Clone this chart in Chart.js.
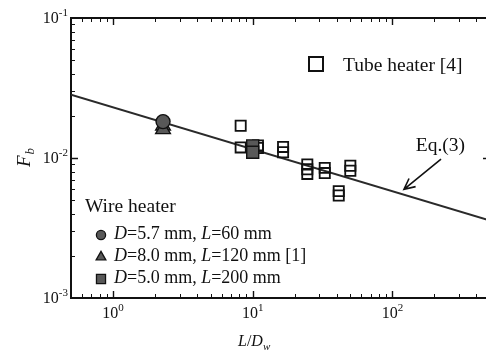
<!DOCTYPE html>
<html>
<head>
<meta charset="utf-8">
<script src="https://cdn.jsdelivr.net/npm/chart.js@4.4.0/dist/chart.umd.min.js"></script>
<style>
    html, body { margin: 0; padding: 0; background: #fff; overflow: hidden; }
    #wrap { width: 500px; height: 350px; }
</style>
</head>
<body>
<div id="wrap"><canvas id="chart" width="500" height="350"></canvas></div>
<script>
// values: L/D_w and F_b
const tubeX = [8.2, 8.2, 10.9, 10.9, 16.5, 16.5, 24.6, 24.6, 24.6, 32.8, 32.8, 41.3, 41.3, 50, 50];
const tubeY = [0.0170, 0.0119, 0.0123, 0.0118, 0.0120, 0.0110, 0.0090, 0.0083, 0.0077, 0.0085, 0.0078, 0.0058, 0.0054, 0.0088, 0.0081];

const circleX = [2.28];
const circleY = [0.0182];
const triX = [2.28, 2.28];
const triY = [0.0170, 0.0160];
const wireSqX = [10, 10];
const wireSqY = [0.0122, 0.0110];

// Eq.(3) line, end points
const eqX = [0.5, 500];
const eqY = [0.0283, 0.00357];

// axis decades and labels
const xMajor = [1, 10, 100];
const xExp = ['0', '1', '2'];
const yMajor = [0.1, 0.01, 0.001];
const yExp = ['-1', '-2', '-3'];

const wireLabels = [
    [['D', true], ['=5.7 mm, ', false], ['L', true], ['=60 mm', false]],
    [['D', true], ['=8.0 mm, ', false], ['L', true], ['=120 mm [1]', false]],
    [['D', true], ['=5.0 mm, ', false], ['L', true], ['=200 mm', false]]
];
const wireStyles = ['circle', 'triangle', 'rect'];

const FONT = '"Liberation Serif", "Times New Roman", serif';
const INK = '#111';
const GREY = '#585858';

const pts = (xs, ys) => xs.map((x, i) => ({ x, y: ys[i] }));

function richText(ctx, parts, x, y, size) {
    parts.forEach(([t, italic]) => {
        ctx.font = `${italic ? 'italic ' : ''}${size}px ${FONT}`;
        ctx.fillText(t, x, y);
        x += ctx.measureText(t).width;
    });
}

function power(ctx, base, exp, x, y, align) {
    // "10" with a raised exponent; x is the anchor per align
    ctx.font = `16px ${FONT}`;
    const wb = ctx.measureText(base).width;
    ctx.font = `11px ${FONT}`;
    const we = ctx.measureText(exp).width;
    let left = x;
    if (align === 'center') left = x - (wb + we) / 2;
    if (align === 'right') left = x - wb - we;
    ctx.textAlign = 'left';
    ctx.font = `16px ${FONT}`;
    ctx.fillText(base, left, y);
    ctx.font = `11px ${FONT}`;
    ctx.fillText(exp, left + wb, y - 7);
}

const frame = {
    id: 'frame',
    beforeDatasetsDraw(chart) {
        const { ctx, chartArea: a, scales: { x, y } } = chart;
        ctx.save();
        ctx.strokeStyle = INK;
        ctx.lineWidth = 2;
        ctx.strokeRect(a.left, a.top, a.right - a.left, a.bottom - a.top);

        // inward ticks on all four sides
        for (let d = -3; d <= 3; d++) {
            for (let m = 1; m <= 9; m++) {
                const v = m * Math.pow(10, d);
                const len = m === 1 ? 7 : 4;
                ctx.lineWidth = m === 1 ? 1.4 : 1;
                if (v > x.min && v < x.max) {
                    const px = Math.round(x.getPixelForValue(v)) + 0.5;
                    ctx.beginPath();
                    ctx.moveTo(px, a.bottom); ctx.lineTo(px, a.bottom - len);
                    ctx.moveTo(px, a.top); ctx.lineTo(px, a.top + len);
                    ctx.stroke();
                }
                if (v > y.min && v < y.max) {
                    const py = Math.round(y.getPixelForValue(v)) + 0.5;
                    ctx.beginPath();
                    ctx.moveTo(a.left, py); ctx.lineTo(a.left + len, py);
                    ctx.moveTo(a.right, py); ctx.lineTo(a.right - len, py);
                    ctx.stroke();
                }
            }
        }
        ctx.restore();
    },
    afterDatasetsDraw(chart) {
        const { ctx, chartArea: a, scales: { x, y } } = chart;
        ctx.save();
        ctx.fillStyle = INK;
        ctx.textBaseline = 'alphabetic';

        xMajor.forEach((v, i) => power(ctx, '10', xExp[i], x.getPixelForValue(v), a.bottom + 20, 'center'));
        yMajor.forEach((v, i) => power(ctx, '10', yExp[i], a.left - 3, y.getPixelForValue(v) + 5, 'right'));

        // axis titles
        ctx.textAlign = 'left';
        let tx = 238;
        ctx.font = `italic 16px ${FONT}`;
        ctx.fillText('L', tx, 346); tx += ctx.measureText('L').width;
        ctx.font = `16px ${FONT}`;
        ctx.fillText('/', tx, 346); tx += ctx.measureText('/').width;
        ctx.font = `italic 16px ${FONT}`;
        ctx.fillText('D', tx, 346); tx += ctx.measureText('D').width;
        ctx.font = `italic 11px ${FONT}`;
        ctx.fillText('w', tx, 350);

        ctx.save();
        ctx.translate(30, 167);
        ctx.rotate(-Math.PI / 2);
        ctx.font = `italic 19px ${FONT}`;
        ctx.fillText('F', 0, 0);
        const wf = ctx.measureText('F').width;
        ctx.font = `italic 13px ${FONT}`;
        ctx.fillText('b', wf + 1, 4);
        ctx.restore();

        // tube heater legend
        ctx.strokeStyle = INK;
        ctx.lineWidth = 2;
        ctx.strokeRect(309, 57, 14, 14);
        ctx.font = `19.5px ${FONT}`;
        ctx.fillText('Tube heater [4]', 343, 71);

        // wire heater legend
        ctx.fillText('Wire heater', 85, 212);
        wireLabels.forEach((parts, i) => {
            const by = 239 + i * 22;
            ctx.fillStyle = GREY;
            ctx.strokeStyle = INK;
            ctx.lineWidth = 1.3;
            const style = wireStyles[i];
            const r = style === 'circle' ? 4.6 : style === 'triangle' ? 5.6 : 6.4;
            Chart.helpers.drawPoint(ctx, { pointStyle: style, radius: r, rotation: 0, borderWidth: 1.3 }, 101, by - 4);
            ctx.fillStyle = INK;
            richText(ctx, parts, 114, by, 18);
        });

        // Eq.(3) label and arrow
        ctx.font = `19.5px ${FONT}`;
        ctx.fillText('Eq.(3)', x.getPixelForValue(147), y.getPixelForValue(0.0112));
        const x0 = x.getPixelForValue(223), y0 = y.getPixelForValue(0.0098);
        const x1 = x.getPixelForValue(121), y1 = y.getPixelForValue(0.00597);
        const ang = Math.atan2(y1 - y0, x1 - x0);
        ctx.lineWidth = 1.6;
        ctx.beginPath();
        ctx.moveTo(x0, y0); ctx.lineTo(x1, y1);
        ctx.moveTo(x1 - 12 * Math.cos(ang - 0.45), y1 - 12 * Math.sin(ang - 0.45));
        ctx.lineTo(x1, y1);
        ctx.lineTo(x1 - 12 * Math.cos(ang + 0.45), y1 - 12 * Math.sin(ang + 0.45));
        ctx.stroke();
        ctx.restore();
    }
};

new Chart(document.getElementById('chart'), {
    type: 'scatter',
    data: {
        datasets: [
            { label: 'D=5.7 mm', data: pts(circleX, circleY), pointStyle: 'circle', pointRadius: 7,
              backgroundColor: GREY, borderColor: INK, borderWidth: 1.4 },
            { label: 'D=8.0 mm', data: pts(triX, triY), pointStyle: 'triangle', pointRadius: 8.5,
              backgroundColor: GREY, borderColor: INK, borderWidth: 1.4 },
            { label: 'D=5.0 mm', data: pts(wireSqX, wireSqY), pointStyle: 'rect', pointRadius: 8.5,
              backgroundColor: GREY, borderColor: INK, borderWidth: 1.4 },
            { label: 'Tube heater', data: pts(tubeX, tubeY), pointStyle: 'rect', pointRadius: 7.2,
              backgroundColor: 'rgba(255,255,255,0)', borderColor: INK, borderWidth: 1.8 },
            { type: 'line', label: 'Eq.(3)', data: pts(eqX, eqY), borderColor: '#2a2a2a',
              borderWidth: 2, pointRadius: 0, fill: false, tension: 0 }
        ]
    },
    options: {
        responsive: false,
        animation: false,
        events: [],
        layout: { padding: { left: 71, top: 18, right: 10, bottom: 52 } },
        plugins: { legend: { display: false }, tooltip: { enabled: false } },
        scales: {
            x: { type: 'logarithmic', min: 0.5, max: 500, display: false },
            y: { type: 'logarithmic', min: 0.001, max: 0.1, display: false }
        }
    },
    plugins: [frame]
});
</script>
</body>
</html>
